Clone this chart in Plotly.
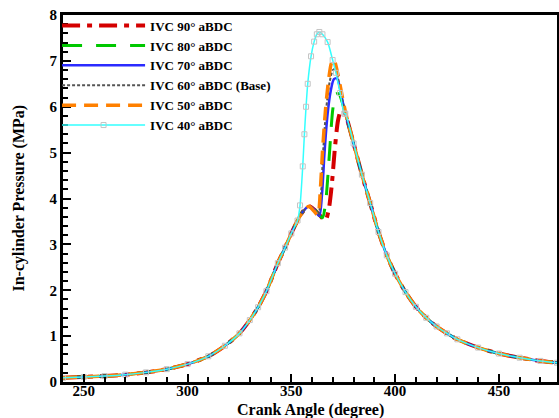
import plotly.graph_objects as go

# ---- data ----
ca_compression = [240, 250, 260, 270, 280, 290, 300, 310, 318, 325, 330, 334, 338,
                  343.5, 347, 350, 353, 355.5, 358.5]
p_compression = [0.09, 0.11, 0.13, 0.16, 0.21, 0.28, 0.39, 0.56, 0.79, 1.06, 1.35, 1.63,
                 1.98, 2.59, 2.93, 3.24, 3.52, 3.71, 3.83]

ca_expansion = [376, 380, 384, 388, 392, 396, 400, 405, 410, 415, 420, 425, 430, 440,
                450, 460, 470, 478]
p_expansion = [5.85, 5.2, 4.52, 3.9, 3.27, 2.76, 2.36, 1.96, 1.64, 1.40, 1.21, 1.06,
               0.93, 0.75, 0.62, 0.53, 0.46, 0.42]

ca_ivc90 = [361, 364, 366.4, 368, 369.5, 371, 372.5, 374, 375]
p_ivc90 = [3.76, 3.62, 3.52, 3.75, 4.3, 5.1, 5.7, 5.93, 5.93]

ca_ivc80 = [361, 363, 365, 366.5, 368.4, 370, 371.5, 373, 374.5]
p_ivc80 = [3.77, 3.66, 3.58, 3.9, 5.0, 5.95, 6.28, 6.28, 6.1]

ca_ivc70 = [361, 363.5, 364.8, 366, 367.5, 369, 370.5, 372, 373.5, 375]
p_ivc70 = [3.76, 3.62, 4.1, 5.0, 5.85, 6.35, 6.6, 6.62, 6.4, 6.05]

ca_ivc60 = [361, 363, 364.3, 365.3, 366.8, 368.5, 370, 371.2, 372.6, 374.3]
p_ivc60 = [3.76, 3.65, 4.1, 5.0, 5.95, 6.55, 6.8, 6.83, 6.6, 6.2]

ca_ivc50 = [361, 362.8, 364, 365, 366.5, 368, 369.3, 370.5, 372, 374, 376]
p_ivc50 = [3.72, 3.64, 4.2, 5.0, 5.95, 6.6, 6.95, 7.03, 6.8, 6.35, 5.9]

ca_ivc40 = [354.2, 355.5, 356.3, 357.1, 357.9, 359.5, 361, 362.3, 363.5, 365, 367.5,
            369.9, 371.5, 373.5, 375.5]
p_ivc40 = [3.85, 4.7, 5.4, 6.0, 6.5, 7.1, 7.42, 7.58, 7.63, 7.58, 7.41, 7.02, 6.74,
           6.3, 5.85]

series_names = ["IVC 90° aBDC", "IVC 80° aBDC", "IVC 70° aBDC",
                "IVC 60° aBDC (Base)", "IVC 50° aBDC", "IVC 40° aBDC"]

x_ticks = [250, 300, 350, 400, 450]
y_ticks = [0, 1, 2, 3, 4, 5, 6, 7, 8]

FONT = "Liberation Serif, Times New Roman, serif"


def full_curve(ca_mid, p_mid, cut=358.5):
    xs = [c for c in ca_compression if c <= cut]
    ys = [p for c, p in zip(ca_compression, p_compression) if c <= cut]
    last = ca_mid[-1]
    xe = [c for c in ca_expansion if c > last]
    ye = [p for c, p in zip(ca_expansion, p_expansion) if c > last]
    return xs + ca_mid + xe, ys + p_mid + ye


styles = [
    dict(color="#d40000", width=4, dash="18px,7px,5px,7px"),
    dict(color="#00c800", width=3, dash="20px,14px"),
    dict(color="#2b2bff", width=2.5, dash="solid"),
    dict(color="#555555", width=2, dash="3px,2px"),
    dict(color="#ff8000", width=3.5, dash="14px,8px"),
]
mids = [(ca_ivc90, p_ivc90), (ca_ivc80, p_ivc80), (ca_ivc70, p_ivc70),
        (ca_ivc60, p_ivc60), (ca_ivc50, p_ivc50)]

fig = go.Figure()
for name, (cm, pm), st in zip(series_names[:5], mids, styles):
    x, y = full_curve(cm, pm)
    fig.add_trace(go.Scatter(x=x, y=y, name=name, mode="lines",
                             line=dict(shape="spline", smoothing=0.7, **st)))

x40, y40 = full_curve(ca_ivc40, p_ivc40, cut=353)
fig.add_trace(go.Scatter(
    x=x40, y=y40, name=series_names[5], mode="lines+markers",
    line=dict(color="#33ffff", width=1.5, shape="spline", smoothing=0.7),
    marker=dict(symbol="square-open", size=5, color="#c4c4c4",
                line=dict(width=1, color="#c4c4c4"))))

axis_common = dict(
    showline=True, linecolor="black", linewidth=3, mirror=True,
    ticks="inside", ticklen=8, tickwidth=2, tickcolor="black",
    showgrid=False, zeroline=False, automargin=False,
    tickfont=dict(family=FONT, size=15, color="black", weight="bold"),
)

fig.update_layout(
    width=559, height=418,
    margin=dict(l=63, r=2, t=15, b=36, autoexpand=False),
    paper_bgcolor="white", plot_bgcolor="white",
    font=dict(family=FONT, color="black"),
    xaxis=dict(range=[240, 478], tickvals=x_ticks, ticklabelstandoff=-7,
               minor=dict(dtick=10, ticks="inside", ticklen=5, tickwidth=1.5,
                          tickcolor="black"),
               **axis_common),
    yaxis=dict(range=[0, 8], tickvals=y_ticks,
               minor=dict(dtick=0.2, ticks="inside", ticklen=5, tickwidth=1.5,
                          tickcolor="black"),
               **axis_common),
    legend=dict(x=-0.012, y=1.012, xanchor="left", yanchor="top",
                bgcolor="rgba(0,0,0,0)", borderwidth=0,
                font=dict(family=FONT, size=13, color="black", weight="bold"),
                itemwidth=83, tracegroupgap=0),
    showlegend=True,
    annotations=[
        dict(text="Crank Angle (degree)", xref="paper", yref="paper",
             x=0.5, y=-0.077, xanchor="center", yanchor="middle", showarrow=False,
             font=dict(family=FONT, size=16, color="black", weight="bold")),
        dict(text="In-cylinder Pressure (MPa)", xref="paper", yref="paper",
             x=-0.091, y=0.5, xanchor="center", yanchor="middle", showarrow=False,
             textangle=-90,
             font=dict(family=FONT, size=16, color="black", weight="bold")),
    ],
)

fig.write_html("out.html", config={"displayModeBar": False},
               post_script="document.body.style.margin='0';")
